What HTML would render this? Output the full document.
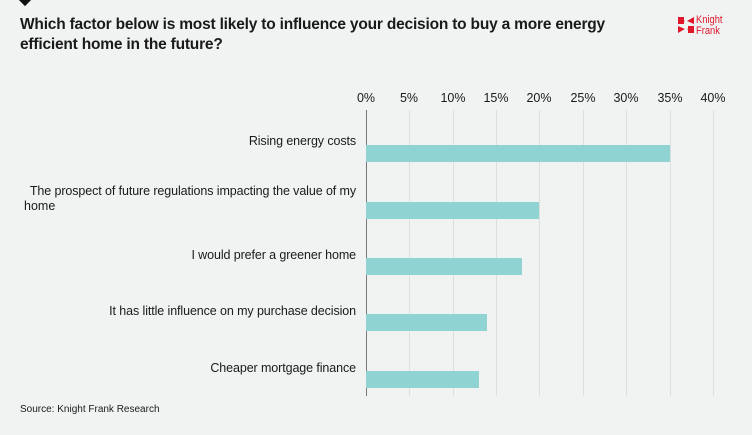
<!DOCTYPE html>
<html><head><style>
body{margin:0;width:752px;height:435px;background:#f0f3f2;font-family:"Liberation Sans",sans-serif;overflow:hidden;position:relative}
.t{position:absolute;white-space:nowrap;color:#1a1a1a}
.title{left:20px;top:15px;font-size:15.5px;font-weight:bold;line-height:20px;letter-spacing:-0.2px}
.lab{font-size:12.5px;text-align:right;right:396px;line-height:15px;letter-spacing:-0.1px}
.tick{font-size:12.5px;top:91px;transform:translateX(-50%)}
.g{position:absolute;top:110px;height:286px;width:1px;background:#dcdfde}
.bar{position:absolute;left:366px;height:17px;background:#8fd3d3}
</style></head><body>
<div style="position:absolute;left:20px;top:-6px;width:10px;height:10px;background:#111;transform:rotate(45deg)"></div>
<div class="t title">Which factor below is most likely to influence your decision to buy a more energy<br>efficient home in the future?</div>
<svg style="position:absolute;left:678px;top:17px" width="16" height="16"><path d="M0 0L7 4L0 7Z M16 0L9 4L16 7Z M0 9L7 12L0 16Z M16 9L9 12L16 16Z" fill="#e0162b"/><rect x="0" y="0" width="6" height="7" fill="#e0162b"/><rect x="10" y="9" width="6" height="7" fill="#e0162b"/></svg>
<div class="t" style="left:696px;top:15px;font-size:11px;line-height:11px;color:#e0162b;transform:scaleX(0.85);transform-origin:left top">Knight<br>Frank</div>
<div class="g" style="left:366px;background:#777"></div>
<div class="g" style="left:409px"></div><div class="g" style="left:453px"></div><div class="g" style="left:496px"></div><div class="g" style="left:539px"></div><div class="g" style="left:583px"></div><div class="g" style="left:626px"></div><div class="g" style="left:670px"></div><div class="g" style="left:713px"></div>
<div class="t tick" style="left:366px">0%</div><div class="t tick" style="left:409px">5%</div><div class="t tick" style="left:453px">10%</div><div class="t tick" style="left:496px">15%</div><div class="t tick" style="left:539px">20%</div><div class="t tick" style="left:583px">25%</div><div class="t tick" style="left:626px">30%</div><div class="t tick" style="left:670px">35%</div><div class="t tick" style="left:713px">40%</div>
<div class="bar" style="top:145px;width:304px"></div>
<div class="bar" style="top:202px;width:173px"></div>
<div class="bar" style="top:258px;width:156px"></div>
<div class="bar" style="top:314px;width:121px"></div>
<div class="bar" style="top:371px;width:113px"></div>
<div class="t lab" style="top:134px">Rising energy costs</div>
<div class="t lab" style="top:184px">The prospect of future regulations impacting the value of my</div>
<div class="t" style="top:199px;left:24px;font-size:12.5px;line-height:15px">home</div>
<div class="t lab" style="top:248px">I would prefer a greener home</div>
<div class="t lab" style="top:304px">It has little influence on my purchase decision</div>
<div class="t lab" style="top:361px">Cheaper mortgage finance</div>
<div class="t" style="left:20px;top:404px;font-size:10px">Source: Knight Frank Research</div>
</body></html>
